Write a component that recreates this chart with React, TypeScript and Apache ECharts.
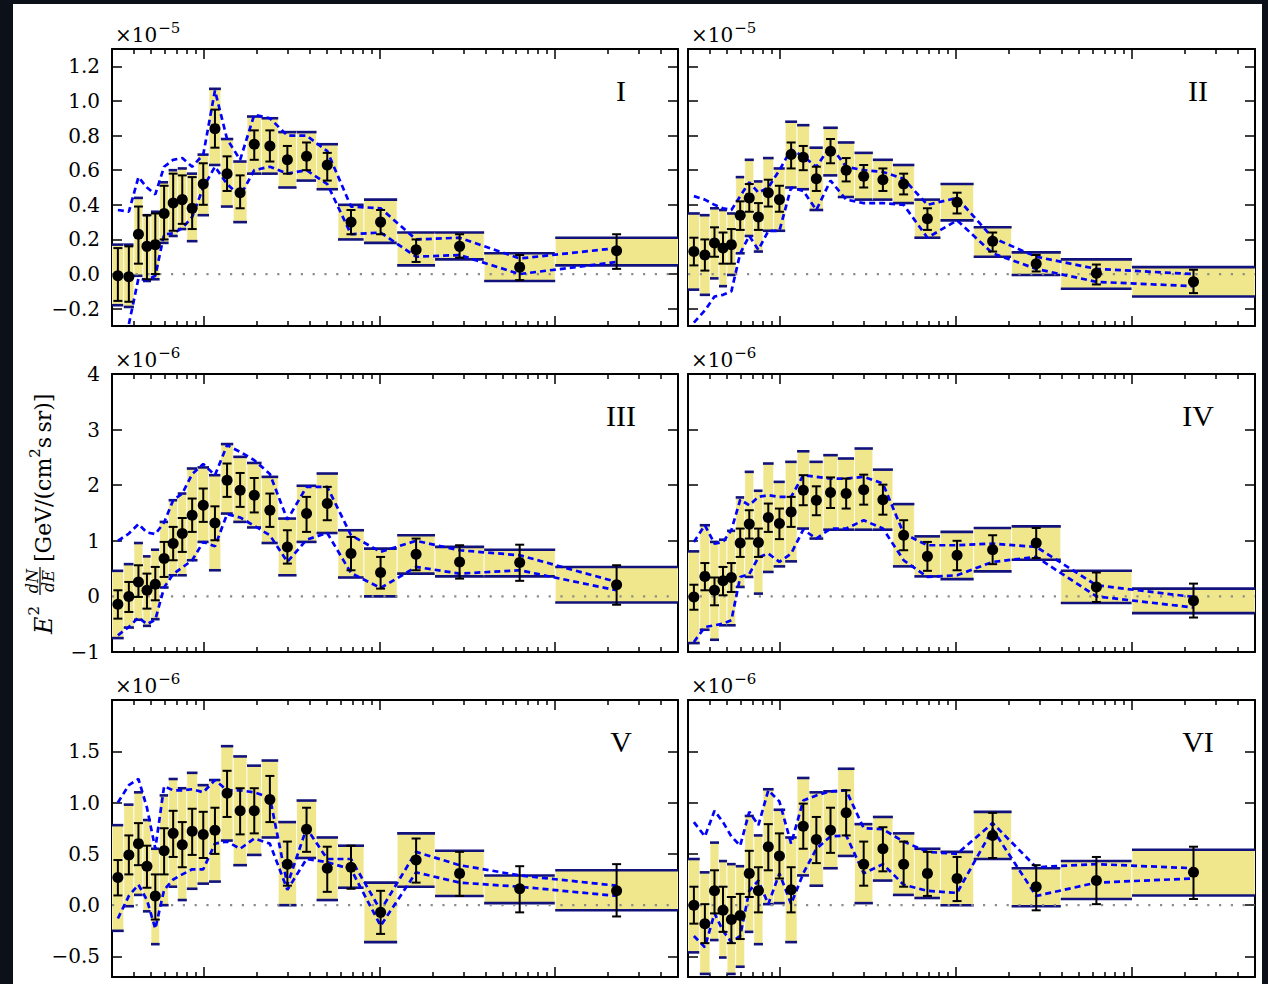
import React, { useEffect, useRef } from 'react';
import * as echarts from 'echarts';

// Energy bin edges (GeV); points sit at the geometric bin centre
const edges = [0.3, 0.35, 0.4, 0.45, 0.5, 0.56, 0.63, 0.71, 0.8, 0.92, 1.07, 1.25, 1.47, 1.76, 2.13, 2.65, 3.37, 4.38, 5.8, 8.16, 12.6, 20.7, 39.4, 100, 500];
const centers = edges.slice(0, -1).map((e, i) => Math.sqrt(e * edges[i + 1]));

const X_MIN = 0.3;
const X_MAX = 500;
const MAJOR_X = [1, 10, 100];
const MINOR_X = [0.4, 0.5, 0.6, 0.7, 0.8, 0.9, 2, 3, 4, 5, 6, 7, 8, 9, 20, 30, 40, 50, 60, 70, 80, 90, 200, 300, 400];

// Region I (x 1e-5)
const valI = [-0.01, -0.015, 0.23, 0.16, 0.17, 0.35, 0.41, 0.43, 0.38, 0.52, 0.84, 0.58, 0.47, 0.75, 0.74, 0.66, 0.68, 0.63, 0.30, 0.30, 0.14, 0.16, 0.04, 0.135];
const errHiI = [0.15, 0.16, 0.39, 0.34, 0.35, 0.51, 0.58, 0.57, 0.56, 0.64, 0.95, 0.68, 0.57, 0.83, 0.83, 0.74, 0.76, 0.70, 0.37, 0.37, 0.20, 0.23, 0.11, 0.23];
const errLoI = [-0.155, -0.16, 0.06, -0.03, 0.0, 0.2, 0.25, 0.29, 0.26, 0.40, 0.73, 0.48, 0.38, 0.66, 0.65, 0.58, 0.60, 0.54, 0.23, 0.23, 0.07, 0.095, -0.035, 0.03];
const bandHiI = [0.17, 0.17, 0.44, 0.34, 0.36, 0.53, 0.60, 0.61, 0.58, 0.69, 1.07, 0.78, 0.65, 0.91, 0.90, 0.82, 0.82, 0.75, 0.40, 0.43, 0.24, 0.24, 0.12, 0.21];
const bandLoI = [-0.18, -0.19, -0.01, -0.04, -0.03, 0.18, 0.22, 0.26, 0.19, 0.34, 0.63, 0.39, 0.30, 0.58, 0.58, 0.50, 0.54, 0.49, 0.20, 0.18, 0.05, 0.085, -0.04, 0.05];
const dashHiI = [0.37, 0.36, 0.56, 0.50, 0.46, 0.62, 0.66, 0.67, 0.62, 0.69, 1.06, 0.78, 0.66, 0.92, 0.90, 0.80, 0.80, 0.71, 0.39, 0.38, 0.20, 0.21, 0.09, 0.15];
const dashLoI = [-0.45, -0.29, -0.025, -0.035, -0.01, 0.23, 0.235, 0.265, 0.33, 0.50, 0.62, 0.52, 0.45, 0.60, 0.62, 0.58, 0.60, 0.52, 0.23, 0.24, 0.10, 0.11, 0.0, 0.07];

// Region II (x 1e-5)
const valII = [0.13, 0.11, 0.18, 0.15, 0.17, 0.34, 0.44, 0.33, 0.47, 0.43, 0.69, 0.675, 0.55, 0.71, 0.60, 0.565, 0.545, 0.52, 0.32, 0.415, 0.19, 0.06, 0.005, -0.045];
const errHiII = [0.21, 0.20, 0.27, 0.24, 0.26, 0.42, 0.52, 0.41, 0.545, 0.51, 0.76, 0.74, 0.62, 0.78, 0.67, 0.63, 0.61, 0.58, 0.38, 0.47, 0.24, 0.11, 0.055, 0.025];
const errLoII = [0.05, 0.02, 0.10, 0.06, 0.06, 0.255, 0.36, 0.255, 0.39, 0.36, 0.61, 0.60, 0.48, 0.64, 0.535, 0.50, 0.48, 0.46, 0.255, 0.35, 0.13, 0.015, -0.06, -0.11];
const bandHiII = [0.35, 0.34, 0.38, 0.37, 0.35, 0.56, 0.66, 0.535, 0.67, 0.61, 0.88, 0.86, 0.73, 0.845, 0.76, 0.70, 0.66, 0.63, 0.43, 0.52, 0.27, 0.125, 0.085, 0.04];
const bandLoII = [-0.09, -0.12, -0.025, -0.07, -0.005, 0.12, 0.22, 0.13, 0.25, 0.25, 0.50, 0.49, 0.37, 0.57, 0.445, 0.43, 0.43, 0.41, 0.21, 0.31, 0.10, -0.005, -0.085, -0.13];
const dashHiII = [0.45, 0.43, 0.40, 0.38, 0.37, 0.45, 0.53, 0.47, 0.50, 0.60, 0.72, 0.68, 0.62, 0.74, 0.62, 0.60, 0.59, 0.55, 0.40, 0.44, 0.21, 0.10, 0.03, 0.0];
const dashLoII = [-0.28, -0.21, -0.13, -0.12, -0.10, 0.12, 0.22, 0.14, 0.25, 0.25, 0.50, 0.48, 0.37, 0.54, 0.43, 0.41, 0.41, 0.40, 0.21, 0.31, 0.12, 0.03, -0.045, -0.07];

// Region III (x 1e-6)
const valIII = [-0.14, 0.0, 0.26, 0.11, 0.22, 0.68, 0.95, 1.13, 1.46, 1.64, 1.32, 2.09, 1.91, 1.82, 1.55, 0.89, 1.49, 1.67, 0.77, 0.43, 0.76, 0.62, 0.61, 0.21];
const errHiIII = [0.11, 0.26, 0.56, 0.41, 0.53, 0.98, 1.25, 1.41, 1.76, 1.94, 1.62, 2.39, 2.22, 2.13, 1.85, 1.19, 1.79, 1.97, 1.07, 0.71, 1.04, 0.92, 0.93, 0.56];
const errLoIII = [-0.40, -0.28, -0.01, -0.22, -0.07, 0.35, 0.65, 0.80, 1.16, 1.34, 1.01, 1.79, 1.61, 1.51, 1.25, 0.59, 1.16, 1.37, 0.47, 0.14, 0.47, 0.32, 0.28, -0.15];
const bandHiIII = [0.46, 0.58, 0.96, 0.72, 0.84, 1.34, 1.73, 1.85, 2.30, 2.32, 2.18, 2.74, 2.51, 2.40, 2.15, 1.40, 1.99, 2.21, 1.19, 0.86, 1.10, 0.89, 0.84, 0.53];
const bandLoIII = [-0.75, -0.56, -0.42, -0.53, -0.41, 0.16, 0.38, 0.38, 0.65, 0.98, 0.47, 1.49, 1.34, 1.24, 0.96, 0.38, 0.98, 1.14, 0.34, 0.0, 0.41, 0.36, 0.36, -0.11];
const dashHiIII = [1.0, 1.13, 1.30, 1.15, 1.12, 1.33, 1.73, 1.85, 2.2, 2.38, 2.18, 2.72, 2.60, 2.45, 2.2, 1.38, 1.97, 1.97, 1.1, 0.80, 1.0, 0.83, 0.74, 0.26];
const dashLoIII = [-0.70, -0.55, -0.38, -0.50, -0.42, 0.16, 0.40, 0.52, 0.65, 0.98, 0.90, 1.48, 1.42, 1.27, 1.1, 0.62, 1.02, 1.14, 0.42, 0.15, 0.53, 0.41, 0.47, 0.11];

// Region IV (x 1e-6)
const valIV = [-0.01, 0.36, 0.11, 0.28, 0.34, 0.96, 1.30, 0.97, 1.42, 1.31, 1.52, 1.91, 1.73, 1.87, 1.85, 1.92, 1.74, 1.10, 0.72, 0.74, 0.84, 0.96, 0.17, -0.08];
const errHiIV = [0.21, 0.60, 0.34, 0.53, 0.60, 1.22, 1.55, 1.22, 1.67, 1.58, 1.79, 2.18, 1.98, 2.14, 2.12, 2.19, 2.01, 1.37, 0.98, 1.0, 1.10, 1.23, 0.43, 0.23];
const errLoIV = [-0.24, 0.11, -0.16, 0.02, 0.08, 0.71, 1.04, 0.71, 1.16, 1.03, 1.25, 1.64, 1.46, 1.59, 1.58, 1.65, 1.47, 0.83, 0.46, 0.47, 0.58, 0.69, -0.10, -0.38];
const bandHiIV = [0.81, 1.28, 0.98, 1.02, 1.18, 1.78, 2.24, 1.90, 2.39, 2.06, 2.42, 2.61, 2.42, 2.54, 2.48, 2.66, 2.28, 1.66, 1.08, 1.16, 1.23, 1.26, 0.46, 0.14];
const bandLoIV = [-0.84, -0.60, -0.78, -0.52, -0.52, 0.17, 0.35, 0.05, 0.44, 0.54, 0.63, 1.22, 1.04, 1.20, 1.20, 1.20, 1.20, 0.54, 0.36, 0.31, 0.45, 0.66, -0.12, -0.30];
const dashHiIV = [0.98, 1.28, 0.95, 0.98, 1.19, 1.74, 1.64, 1.79, 1.82, 1.79, 1.79, 2.18, 2.15, 2.12, 2.12, 2.15, 2.03, 1.13, 0.92, 0.92, 0.95, 0.89, 0.2, -0.01];
const dashLoIV = [-0.82, -0.55, -0.52, -0.49, -0.43, 0.35, 0.40, 0.70, 0.77, 0.62, 0.77, 1.2, 1.04, 1.22, 1.22, 1.37, 1.22, 0.65, 0.35, 0.38, 0.62, 0.71, 0.0, -0.2];

// Region V (x 1e-6)
const valV = [0.27, 0.49, 0.60, 0.38, 0.09, 0.53, 0.70, 0.59, 0.72, 0.69, 0.73, 1.09, 0.92, 0.92, 1.03, 0.40, 0.74, 0.36, 0.37, -0.07, 0.44, 0.31, 0.16, 0.14];
const errHiV = [0.44, 0.68, 0.80, 0.58, 0.30, 0.75, 0.92, 0.81, 0.94, 0.91, 0.95, 1.31, 1.14, 1.14, 1.26, 0.62, 0.95, 0.57, 0.58, 0.14, 0.65, 0.52, 0.38, 0.40];
const errLoV = [0.095, 0.30, 0.39, 0.17, -0.14, 0.30, 0.47, 0.37, 0.49, 0.46, 0.50, 0.86, 0.69, 0.70, 0.81, 0.19, 0.52, 0.13, 0.16, -0.28, 0.22, 0.09, -0.07, -0.11];
const bandHiV = [0.78, 0.98, 1.10, 0.83, 0.55, 1.07, 1.23, 1.14, 1.29, 1.17, 1.22, 1.55, 1.45, 1.36, 1.41, 0.81, 1.02, 0.66, 0.58, 0.22, 0.70, 0.53, 0.29, 0.34];
const bandLoV = [-0.25, -0.01, 0.10, -0.06, -0.38, 0.0, 0.18, 0.05, 0.16, 0.21, 0.23, 0.63, 0.39, 0.49, 0.66, 0.0, 0.46, 0.05, 0.17, -0.36, 0.18, 0.09, 0.02, -0.05];
const dashHiV = [1.0, 1.17, 1.23, 0.95, 0.55, 1.16, 1.12, 1.12, 1.13, 1.10, 1.22, 1.12, 1.12, 1.10, 1.05, 0.20, 0.75, 0.45, 0.45, -0.05, 0.52, 0.39, 0.29, 0.19];
const dashLoV = [-0.13, 0.09, 0.20, 0.05, -0.23, 0.15, 0.25, 0.30, 0.35, 0.35, 0.60, 0.62, 0.55, 0.65, 0.60, 0.15, 0.45, 0.42, 0.35, -0.20, 0.32, 0.22, 0.18, 0.09];

// Region VI (x 1e-6)
const valVI = [0.0, -0.18, 0.14, -0.05, -0.14, -0.10, 0.31, 0.14, 0.57, 0.48, 0.15, 0.77, 0.64, 0.73, 0.90, 0.40, 0.55, 0.40, 0.31, 0.26, 0.68, 0.18, 0.24, 0.32];
const errHiVI = [0.18, 0.01, 0.34, 0.18, 0.08, 0.11, 0.53, 0.37, 0.79, 0.70, 0.37, 0.99, 0.86, 0.95, 1.12, 0.62, 0.76, 0.62, 0.52, 0.47, 0.90, 0.39, 0.47, 0.57];
const errLoVI = [-0.18, -0.37, -0.08, -0.26, -0.37, -0.33, 0.08, -0.07, 0.34, 0.26, -0.07, 0.55, 0.41, 0.51, 0.68, 0.19, 0.33, 0.18, 0.09, 0.04, 0.46, -0.05, 0.01, 0.06];
const bandHiVI = [0.45, 0.32, 0.61, 0.43, 0.40, 0.38, 0.87, 0.68, 1.13, 0.93, 0.66, 1.24, 1.10, 1.11, 1.33, 0.79, 0.86, 0.70, 0.55, 0.52, 0.91, 0.36, 0.43, 0.54];
const bandLoVI = [-0.46, -0.67, -0.34, -0.51, -0.67, -0.60, -0.26, -0.38, 0.01, 0.02, -0.36, 0.29, 0.19, 0.36, 0.48, 0.02, 0.24, 0.10, 0.07, 0.0, 0.45, -0.01, 0.06, 0.095];
const dashHiVI = [0.81, 0.67, 0.92, 0.81, 0.67, 0.58, 0.91, 0.78, 1.12, 1.01, 0.60, 1.02, 1.07, 1.11, 1.12, 0.75, 0.74, 0.62, 0.52, 0.50, 0.80, 0.37, 0.40, 0.36];
const dashLoVI = [-0.30, -0.41, -0.08, -0.25, -0.36, -0.30, 0.14, 0.24, 0.01, 0.31, 0.01, 0.31, 0.55, 0.67, 0.68, 0.31, 0.40, 0.20, 0.14, 0.12, 0.74, 0.09, 0.22, 0.26];

// y-axis set-up per row: range, ticks, decimals, exponent of the multiplier
const ROWS = [
  { min: -0.3, max: 1.3, ticks: [-0.2, 0, 0.2, 0.4, 0.6, 0.8, 1.0, 1.2], dec: 1, exp: '\u22125' },
  { min: -1, max: 4, ticks: [-1, 0, 1, 2, 3, 4], dec: 0, exp: '\u22126' },
  { min: -0.7, max: 2.0, ticks: [-0.5, 0, 0.5, 1.0, 1.5], dec: 1, exp: '\u22126' },
];

const PANELS = [
  { label: 'I', row: 0, col: 0, val: valI, errHi: errHiI, errLo: errLoI, bandHi: bandHiI, bandLo: bandLoI, dashHi: dashHiI, dashLo: dashLoI },
  { label: 'II', row: 0, col: 1, val: valII, errHi: errHiII, errLo: errLoII, bandHi: bandHiII, bandLo: bandLoII, dashHi: dashHiII, dashLo: dashLoII },
  { label: 'III', row: 1, col: 0, val: valIII, errHi: errHiIII, errLo: errLoIII, bandHi: bandHiIII, bandLo: bandLoIII, dashHi: dashHiIII, dashLo: dashLoIII },
  { label: 'IV', row: 1, col: 1, val: valIV, errHi: errHiIV, errLo: errLoIV, bandHi: bandHiIV, bandLo: bandLoIV, dashHi: dashHiIV, dashLo: dashLoIV },
  { label: 'V', row: 2, col: 0, val: valV, errHi: errHiV, errLo: errLoV, bandHi: bandHiV, bandLo: bandLoV, dashHi: dashHiV, dashLo: dashLoV },
  { label: 'VI', row: 2, col: 1, val: valVI, errHi: errHiVI, errLo: errLoVI, bandHi: bandHiVI, bandLo: bandLoVI, dashHi: dashHiVI, dashLo: dashLoVI },
];

const COL_LEFT = [112, 688];
const COL_WIDTH = [566, 567];
const ROW_TOP = [49, 374, 700];
const ROW_HEIGHT = [277, 278, 277];
const LABEL_CX = [621, 1198];

const SERIF = 'DejaVu Serif';
const KHAKI = '#f0e68c';
const NAVY = '#12127c';
const BLUE = '#0000ff';

const measureCtx = document.createElement('canvas').getContext('2d') as CanvasRenderingContext2D;
function textWidth(text: string, font: string) {
  measureCtx.font = font;
  return measureCtx.measureText(text).width;
}

function fmtTick(v: number, dec: number) {
  const s = Math.abs(v).toFixed(dec);
  return v < 0 ? '\u2212' + s : s;
}

function bandItem(params: any, api: any) {
  const cs = params.coordSys;
  const a = api.coord([api.value(0), api.value(3)]);
  const b = api.coord([api.value(1), api.value(2)]);
  const x0 = Math.max(a[0], cs.x);
  const x1 = Math.min(b[0], cs.x + cs.width);
  const yTop = Math.max(a[1], cs.y);
  const yBot = Math.min(b[1], cs.y + cs.height);
  return {
    type: 'group',
    children: [
      { type: 'rect', shape: { x: x0, y: yTop, width: x1 - x0, height: yBot - yTop }, style: { fill: KHAKI, stroke: '#ffffff', lineWidth: 0.8 } },
      { type: 'line', shape: { x1: x0, y1: a[1], x2: x1, y2: a[1] }, style: { stroke: NAVY, lineWidth: 2.6 } },
      { type: 'line', shape: { x1: x0, y1: b[1], x2: x1, y2: b[1] }, style: { stroke: NAVY, lineWidth: 2.6 } },
    ],
  };
}

function errorItem(params: any, api: any) {
  const top = api.coord([api.value(0), api.value(2)]);
  const bot = api.coord([api.value(0), api.value(1)]);
  const cap = 4.5;
  const st = { stroke: '#000', lineWidth: 2 };
  return {
    type: 'group',
    children: [
      { type: 'line', shape: { x1: top[0], y1: top[1], x2: bot[0], y2: bot[1] }, style: st },
      { type: 'line', shape: { x1: top[0] - cap, y1: top[1], x2: top[0] + cap, y2: top[1] }, style: st },
      { type: 'line', shape: { x1: bot[0] - cap, y1: bot[1], x2: bot[0] + cap, y2: bot[1] }, style: st },
    ],
  };
}

function buildOption() {
  const grid: any[] = [];
  const xAxis: any[] = [];
  const yAxis: any[] = [];
  const series: any[] = [];
  const graphic: any[] = [
    { type: 'rect', shape: { x: 13, y: 4, width: 1249, height: 980 }, style: { fill: '#ffffff' }, z: -10, silent: true },
  ];

  PANELS.forEach((p, g) => {
    const row = ROWS[p.row];
    const left = COL_LEFT[p.col];
    const top = ROW_TOP[p.row];
    grid.push({ left, top, width: COL_WIDTH[p.col], height: ROW_HEIGHT[p.row] });

    const xCommon = {
      gridIndex: g, type: 'log', logBase: 10, min: X_MIN, max: X_MAX,
      axisLabel: { show: false }, splitLine: { show: false },
    };
    const spine = { show: true, onZero: false, lineStyle: { color: '#000', width: 2 } };
    const noSpine = { show: false, onZero: false };
    const majorTick = { show: true, inside: true, length: 10, customValues: MAJOR_X, lineStyle: { color: '#000', width: 1.5 } };
    const minorTick = { show: true, inside: true, length: 5, customValues: MINOR_X, lineStyle: { color: '#000', width: 1.5 } };
    xAxis.push({ ...xCommon, position: 'bottom', axisLine: spine, axisTick: majorTick });
    xAxis.push({ ...xCommon, position: 'bottom', axisLine: noSpine, axisTick: minorTick });
    xAxis.push({ ...xCommon, position: 'top', axisLine: spine, axisTick: majorTick });
    xAxis.push({ ...xCommon, position: 'top', axisLine: noSpine, axisTick: minorTick });

    const yCommon = {
      gridIndex: g, type: 'value', min: row.min, max: row.max,
      axisLine: spine, splitLine: { show: false },
      axisTick: { show: true, inside: true, length: 10, customValues: row.ticks, lineStyle: { color: '#000', width: 1.5 } },
    };
    yAxis.push({
      ...yCommon, position: 'left',
      axisLabel: {
        show: p.col === 0, customValues: row.ticks, margin: 12,
        fontFamily: SERIF, fontSize: 20, color: '#000',
        formatter: (v: number) => fmtTick(v, row.dec),
      },
    });
    yAxis.push({ ...yCommon, position: 'right', axisLabel: { show: false } });

    const xi = g * 4;
    const yi = g * 2;

    series.push({
      type: 'custom', xAxisIndex: xi, yAxisIndex: yi, z: 2, clip: true, silent: true,
      renderItem: bandItem,
      encode: { x: [0, 1], y: [2, 3] },
      data: centers.map((_, i) => [edges[i], edges[i + 1], p.bandLo[i], p.bandHi[i]]),
    });
    series.push({
      type: 'line', xAxisIndex: xi, yAxisIndex: yi, z: 3, silent: true, symbol: 'none',
      lineStyle: { color: '#8c8c8c', width: 2.2, type: [2.2, 9.6] },
      data: [[X_MIN, 0], [X_MAX, 0]],
    });
    series.push({
      type: 'line', xAxisIndex: xi, yAxisIndex: yi, z: 4, silent: true, symbol: 'none',
      lineStyle: { color: BLUE, width: 2.7, type: [6, 4] },
      data: centers.map((c, i) => [c, p.dashHi[i]]),
    });
    series.push({
      type: 'line', xAxisIndex: xi, yAxisIndex: yi, z: 4, silent: true, symbol: 'none',
      lineStyle: { color: BLUE, width: 2.7, type: [6, 4] },
      data: centers.map((c, i) => [c, p.dashLo[i]]),
    });
    series.push({
      type: 'custom', xAxisIndex: xi, yAxisIndex: yi, z: 5, silent: true,
      renderItem: errorItem,
      encode: { x: 0, y: [1, 2] },
      data: centers.map((c, i) => [c, p.errLo[i], p.errHi[i]]),
    });
    series.push({
      type: 'scatter', xAxisIndex: xi, yAxisIndex: yi, z: 6, silent: true,
      symbol: 'circle', symbolSize: 11, itemStyle: { color: '#000', opacity: 1 },
      data: centers.map((c, i) => [c, p.val[i]]),
    });

    // multiplier above the panel
    const mx = left + 3;
    const my = top - 14.5;
    const baseFont = `20px "${SERIF}"`;
    const w10 = textWidth('\u00d710', baseFont);
    graphic.push({
      type: 'text', x: mx, y: my, silent: true,
      style: { text: '\u00d710', font: baseFont, fill: '#000', align: 'left', verticalAlign: 'middle', textAlign: 'left', textVerticalAlign: 'middle' },
    });
    graphic.push({
      type: 'text', x: mx + w10 + 1, y: my - 7, silent: true,
      style: { text: row.exp, font: `15px "${SERIF}"`, fill: '#000', align: 'left', verticalAlign: 'middle', textAlign: 'left', textVerticalAlign: 'middle' },
    });

    // region label
    graphic.push({
      type: 'text', x: LABEL_CX[p.col], y: top + 41, silent: true,
      style: { text: p.label, font: '30px "Liberation Serif"', fill: '#000', align: 'center', verticalAlign: 'middle', textAlign: 'center', textVerticalAlign: 'middle' },
    });
  });

  // vertical axis title: E^2 dN/dE [GeV/(cm^2 s sr)], laid out along a rotated baseline
  const fE = `italic 24px "${SERIF}"`;
  const fSup = `15px "${SERIF}"`;
  const fFrac = `italic 16px "${SERIF}"`;
  const fMain = `22px "${SERIF}"`;
  const t = (text: string, x: number, y: number, font: string, align = 'left') => ({
    type: 'text', x, y, silent: true,
    style: { text, font, fill: '#000', align, verticalAlign: 'middle', textAlign: align, textVerticalAlign: 'middle' },
  });
  const kids: any[] = [];
  kids.push(t('E', 4, 1, fE));
  const supX = 4 + textWidth('E', fE) + 1;
  kids.push(t('2', supX, -9, fSup));
  const fracX = 43;
  const fw = 28;
  kids.push(t('dN', fracX + fw / 2, -11, fFrac, 'center'));
  kids.push(t('dE', fracX + fw / 2, 5, fFrac, 'center'));
  kids.push({ type: 'line', silent: true, shape: { x1: fracX, y1: -3, x2: fracX + fw, y2: -3 }, style: { stroke: '#000', lineWidth: 1.2 } });
  let cx = 76;
  const partA = '[GeV/(cm';
  kids.push(t(partA, cx, 0, fMain));
  cx += textWidth(partA, fMain);
  kids.push(t('2', cx, -8, fSup));
  cx += textWidth('2', fSup);
  kids.push(t('s\u2009sr)]', cx, 0, fMain));
  graphic.push({ type: 'group', x: 43, y: 638, rotation: Math.PI / 2, children: kids });

  return {
    animation: false,
    backgroundColor: '#0b1019',
    grid, xAxis, yAxis, series,
    graphic: { elements: graphic },
  };
}

export default function App() {
  const ref = useRef<HTMLDivElement>(null);
  useEffect(() => {
    const chart = echarts.init(ref.current as HTMLDivElement, null, { renderer: 'svg' });
    chart.setOption(buildOption() as any);
    return () => chart.dispose();
  }, []);
  return (
    <div style={{ position: 'absolute', left: 0, top: 0, width: 1268, height: 984 }}>
      <div ref={ref} style={{ width: 1268, height: 984 }} />
    </div>
  );
}
